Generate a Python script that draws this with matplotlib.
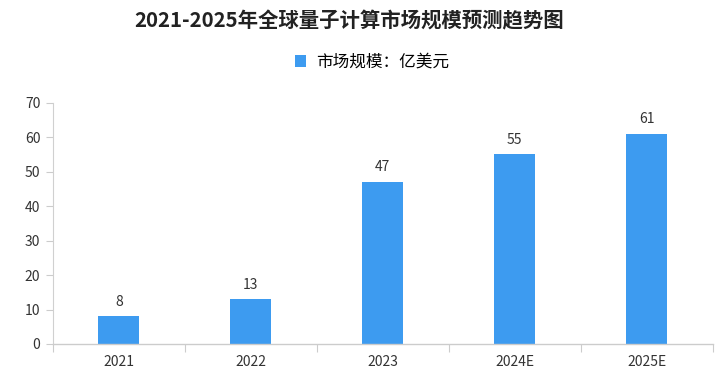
import matplotlib
matplotlib.use("Agg")
import matplotlib.pyplot as plt
import numpy as np

plt.rcParams['font.family'] = ['Noto Sans CJK SC', 'DejaVu Sans']

categories = ["2021", "2022", "2023", "2024E", "2025E"]
values = [8, 13, 47, 55, 61]
series_name = "市场规模：亿美元"
title = "2021-2025年全球量子计算市场规模预测趋势图"
bar_color = "#3D9BF0"

fig = plt.figure(figsize=(7.25, 3.78), dpi=100)
ax = fig.add_axes([0.073, 0.09, 0.91, 0.638])

x = np.arange(len(categories))
bars = ax.bar(x, values, width=0.31, color=bar_color, label=series_name, zorder=2)
for xi, v in zip(x, values):
    ax.text(xi, v + 2.2, str(v), ha='center', va='bottom', fontsize=10, color='#333333')

ax.set_xlim(-0.5, len(categories) - 0.5)
ax.set_ylim(0, 70)
ax.set_yticks(range(0, 71, 10))
ax.set_xticks(x)
ax.set_xticklabels(categories, fontsize=10, color='#333333')
ax.tick_params(axis='x', length=0, pad=8)
ax.set_xticks(np.arange(-0.5, len(categories), 1), minor=True)
ax.tick_params(axis='x', which='minor', length=6, color='#cccccc', width=0.8)
ax.tick_params(axis='y', length=5, color='#cccccc', labelsize=10, labelcolor='#333333', pad=4)
for s in ['top', 'right']:
    ax.spines[s].set_visible(False)
ax.spines['left'].set_color('#d0d0d0')
ax.spines['bottom'].set_color('#cccccc')
ax.spines['bottom'].set_linewidth(1.0)

fig.text(0.481, 0.945, title, ha='center', va='center', fontsize=14.7, fontweight='bold', color='#222222')
leg = fig.legend(handles=[bars], labels=[series_name], loc='center', bbox_to_anchor=(0.513, 0.835),
                 frameon=False, fontsize=12, handlelength=0.7, handleheight=0.7, handletextpad=0.6)

fig.savefig("out.png", dpi=100)
